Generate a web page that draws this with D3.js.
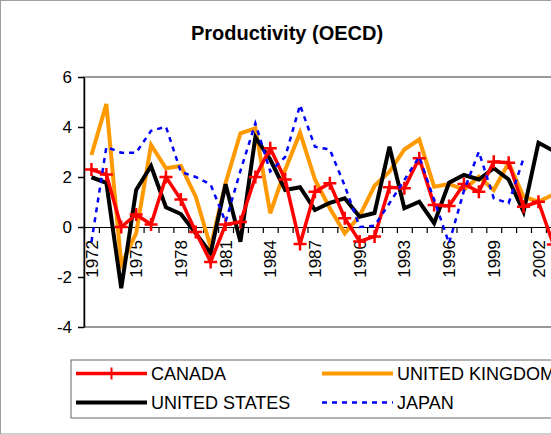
<!DOCTYPE html>
<html><head><meta charset="utf-8">
<script src="https://cdn.jsdelivr.net/npm/d3@7"></script>
<style>
body{margin:0;background:#fff}
svg{display:block}
text{font-family:Arial,"Liberation Sans",sans-serif;fill:#000}
</style>
</head><body>
<svg id="chart" width="551" height="435"></svg>
<script>
const categories = [1972,1973,1974,1975,1976,1977,1978,1979,1980,1981,1982,1983,1984,1985,1986,1987,1988,1989,1990,1991,1992,1993,1994,1995,1996,1997,1998,1999,2000,2001,2002,2003];
const canada = [2.3,2.1,0.0,0.5,0.1,2.0,1.1,-0.2,-1.4,0.1, 0.2,2.0,3.15,1.9,-0.68,1.41,1.75,0.35,-0.58,-0.38, 1.59,1.55,2.75,0.88,0.84,1.72,1.41,2.61,2.57,0.81, 1.01,-0.7];
const unitedKingdom = [2.88,4.92,-1.5,-0.25,3.28,2.35,2.44,1.21,-0.8,1.75, 3.75,3.95,0.55,2.28,3.77,1.9,0.75,-0.25,0.44,1.65, 2.21,3.1,3.5,1.61,1.72,1.49,2.01,1.48,2.57,1.21, 1.01,1.3];
const unitedStates = [1.99,1.77,-2.45,1.48,2.44,0.79,0.52,-0.25,-1.05,1.71, -0.59,3.59,2.7,1.48,1.59,0.68,0.97,1.15,0.41,0.56, 3.21,0.75,1.01,0.15,1.77,2.08,1.9,2.35,1.9,0.61, 3.37,3.05];
const japan = [-0.6,3.2,2.97,2.97,3.85,4.01,2.2,2.0,1.7,0.2, 2.25,4.15,2.22,2.8,4.88,3.21,3.1,1.65,0.0,0.05, 0.95,1.88,2.81,1.08,-0.65,1.45,3.01,1.15,0.95,2.75, null,null];
const yTicks = [-4,-2,0,2,4,6];
const labelYears = [1972,1975,1978,1981,1984,1987,1990,1993,1996,1999,2002];
const seriesNames = ["CANADA","UNITED KINGDOM","UNITED STATES","JAPAN"];

const svg = d3.select("#chart");
const W = 551, H = 435;
const pLeft = 84, pTop = 77, pBottom = 327, step = 14.9;
const nCat = categories.length;

// outer chart border
svg.append("rect").attr("x",0.5).attr("y",0.5).attr("width",700).attr("height",H-1.5)
  .attr("fill","#fff").attr("stroke","#a0a0a0").attr("stroke-width",1);

const x = d3.scaleBand().domain(categories).range([pLeft, pLeft + step*nCat]).paddingInner(0).paddingOuter(0);
const xi = d3.scaleLinear().domain([0, nCat]).range([pLeft, pLeft + step*nCat]);
const y = d3.scaleLinear().domain([-4, 6]).range([pBottom, pTop]);
const cx = c => x(c) + x.bandwidth()/2;

// plot area border
svg.append("rect").attr("x",pLeft).attr("y",pTop).attr("width",step*(nCat+1)).attr("height",pBottom-pTop)
  .attr("fill","none").attr("stroke","#808080").attr("stroke-width",1.6);

// title
svg.append("text").attr("x",287).attr("y",40).attr("text-anchor","middle")
  .style("font-size","20px").style("font-weight","bold").text("Productivity (OECD)");

// y axis
const yAxis = svg.append("g").attr("transform",`translate(${pLeft},0)`)
  .call(d3.axisLeft(y).tickValues(yTicks).tickSize(6).tickSizeOuter(0).tickPadding(6).tickFormat(d=>String(d)));
yAxis.selectAll("path,line").attr("stroke","#000").attr("stroke-width",1.5);
yAxis.selectAll("text").style("font-size","17px").attr("fill","#000");

// x axis at zero
const xAxis = svg.append("g").attr("transform",`translate(0,${y(0)})`)
  .call(d3.axisBottom(xi).tickValues(d3.range(0, nCat+1)).tickSize(6).tickSizeOuter(0).tickFormat(""));
xAxis.selectAll("path,line").attr("stroke","#000").attr("stroke-width",1.2);

svg.append("g").selectAll("text").data(labelYears).join("text")
  .attr("transform", d => `translate(${cx(d)},240) rotate(-90)`)
  .attr("text-anchor","end").attr("dy","0.36em")
  .style("font-size","17px").text(d => d);

// lines
const line = d3.line().defined(d => d.v !== null).x(d => cx(d.c)).y(d => y(d.v));
const pts = arr => categories.map((c,i) => ({c, v: arr[i]}));

const styles = {
  CANADA:{color:"#FF0000", w:3.5, dash:null},
  "UNITED KINGDOM":{color:"#FF9900", w:4, dash:null},
  "UNITED STATES":{color:"#000000", w:4, dash:null},
  JAPAN:{color:"#0000FF", w:2.5, dash:"5,5"}
};
const dataMap = {CANADA:canada, "UNITED KINGDOM":unitedKingdom, "UNITED STATES":unitedStates, JAPAN:japan};
const g = svg.append("g");
const drawOrder = ["UNITED KINGDOM","UNITED STATES","CANADA","JAPAN"];
drawOrder.forEach(name => {
  const s = styles[name];
  g.append("path").datum(pts(dataMap[name])).attr("d", line)
    .attr("fill","none").attr("stroke",s.color).attr("stroke-width",s.w)
    .attr("stroke-linejoin","miter").attr("stroke-dasharray", s.dash);
  if (name === "CANADA") {
    g.append("g").selectAll("path").data(pts(canada).filter(d=>d.v!==null)).join("path")
      .attr("d", d => { const px=cx(d.c), py=y(d.v); return `M${px-6.5},${py}H${px+6.5}M${px},${py-6.5}V${py+6.5}`; })
      .attr("stroke","#FF0000").attr("stroke-width",2.5).attr("fill","none");
  }
});

// legend
const lg = svg.append("g");
lg.append("rect").attr("x",71).attr("y",360).attr("width",700).attr("height",58)
  .attr("fill","#fff").attr("stroke","#666").attr("stroke-width",1);
const legendPos = [
  {name:"CANADA", lx:76, ly:373.5},
  {name:"UNITED KINGDOM", lx:322, ly:373.5},
  {name:"UNITED STATES", lx:76, ly:402.5},
  {name:"JAPAN", lx:322, ly:402.5}
];
legendPos.forEach(p => {
  const s = styles[p.name];
  lg.append("line").attr("x1",p.lx).attr("x2",p.lx+71).attr("y1",p.ly).attr("y2",p.ly)
    .attr("stroke",s.color).attr("stroke-width",s.w).attr("stroke-dasharray",s.dash);
  if (p.name === "CANADA") {
    lg.append("line").attr("x1",p.lx+35.5).attr("x2",p.lx+35.5).attr("y1",p.ly-6).attr("y2",p.ly+6)
      .attr("stroke",s.color).attr("stroke-width",2);
  }
  lg.append("text").attr("x",p.lx+75).attr("y",p.ly).attr("dy","0.36em")
    .style("font-size","18px").text(p.name);
});
</script>
</body></html>
